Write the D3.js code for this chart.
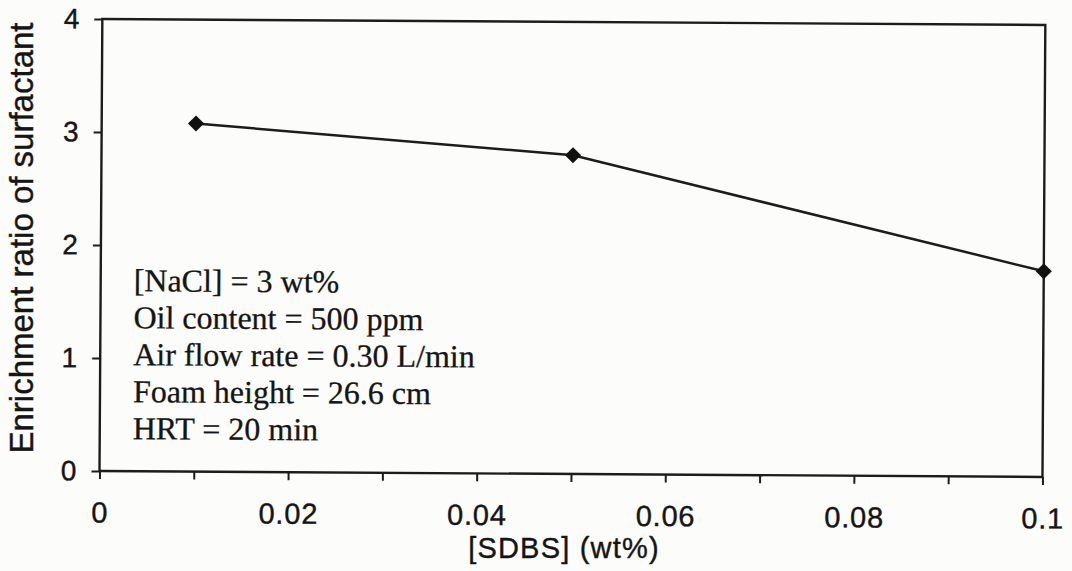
<!DOCTYPE html>
<html>
<head>
<meta charset="utf-8">
<script src="https://cdn.jsdelivr.net/npm/d3@7"></script>
<style>
  html, body { margin: 0; padding: 0; background: #fcfcfb; }
  svg { display: block; }
</style>
</head>
<body>
<svg id="chart" width="1072" height="571"></svg>
<script>
// SDBS concentration (wt%) and measured enrichment ratio
const sdbs = [0.01, 0.05, 0.10];
const enrichment = [3.08, 2.82, 1.82];

const xTicks = [0, 0.01, 0.02, 0.03, 0.04, 0.05, 0.06, 0.07, 0.08, 0.09, 0.10];
const xTickLabels = ["0", "", "0.02", "", "0.04", "", "0.06", "", "0.08", "", "0.1"];
const yTicks = [0, 1, 2, 3, 4];
const yTickLabels = ["0", "1", "2", "3", "4"];

const conditions = [
  "[NaCl] = 3 wt%",
  "Oil content = 500 ppm",
  "Air flow rate = 0.30 L/min",
  "Foam height = 26.6 cm",
  "HRT = 20 min"
];

const xTitle = "[SDBS] (wt%)";
const yTitle = "Enrichment ratio of surfactant";

const W = 943, H = 452;
const svg = d3.select("#chart");

const x = d3.scaleLinear().domain([0, 0.1]).range([0, W]);
const y = d3.scaleLinear().domain([0, 4]).range([H, 0]);

// plot area, slightly tilted as on the printed page
const g = svg.append("g")
  .attr("transform", `translate(99.5,471) rotate(0.36) translate(0,${-H})`);

const ink = "#1c1c1c";
const sans = "'Liberation Sans', Arial, sans-serif";
const serif = "'Liberation Serif', 'Times New Roman', serif";

// frame
g.append("rect")
  .attr("x", 0).attr("y", 0).attr("width", W).attr("height", H)
  .attr("fill", "none").attr("stroke", ink).attr("stroke-width", 2.4);

// x axis
const xAxis = d3.axisBottom(x)
  .tickValues(xTicks)
  .tickSize(8)
  .tickPadding(23)
  .tickFormat((d, i) => xTickLabels[i]);
const gx = g.append("g").attr("transform", `translate(0,${H})`).call(xAxis);
gx.select(".domain").remove();
gx.selectAll(".tick line").attr("stroke", ink).attr("stroke-width", 2);
gx.selectAll(".tick text")
  .attr("fill", "#151515")
  .attr("stroke", "#151515").attr("stroke-width", 0.4)
  .style("font-family", sans)
  .style("font-size", "29px")
  .style("letter-spacing", "0.8px");

// y axis
const yAxis = d3.axisLeft(y)
  .tickValues(yTicks)
  .tickSize(8)
  .tickPadding(15)
  .tickFormat((d, i) => yTickLabels[i]);
const gy = g.append("g").call(yAxis);
gy.select(".domain").remove();
gy.selectAll(".tick line").attr("stroke", ink).attr("stroke-width", 2);
gy.selectAll(".tick text")
  .attr("fill", "#151515")
  .attr("stroke", "#151515").attr("stroke-width", 0.4)
  .style("font-family", sans)
  .style("font-size", "28px");

// data line
const pts = sdbs.map((v, i) => [v, enrichment[i]]);
g.append("path")
  .datum(pts)
  .attr("fill", "none")
  .attr("stroke", ink)
  .attr("stroke-width", 2.5)
  .attr("d", d3.line().x(d => x(d[0])).y(d => y(d[1])));

// diamond markers
g.selectAll("path.marker")
  .data(pts)
  .join("path")
  .attr("class", "marker")
  .attr("d", d3.symbol(d3.symbolSquare, 130)())
  .attr("transform", d => `translate(${x(d[0])},${y(d[1])}) rotate(45)`)
  .attr("fill", "#111");

// experimental conditions
const note = g.append("text")
  .attr("fill", "#151515")
  .attr("stroke", "#151515").attr("stroke-width", 0.3)
  .style("font-family", serif)
  .style("font-size", "32px");
note.selectAll("tspan")
  .data(conditions)
  .join("tspan")
  .attr("x", 33)
  .attr("y", (d, i) => 272 + i * 37)
  .text(d => d);

// axis titles
svg.append("text")
  .attr("x", 564).attr("y", 558)
  .attr("text-anchor", "middle")
  .attr("fill", "#151515")
  .attr("stroke", "#151515").attr("stroke-width", 0.4)
  .style("font-family", sans)
  .style("font-size", "29px")
  .style("letter-spacing", "1.2px")
  .text(xTitle);

svg.append("text")
  .attr("transform", "translate(33,238) rotate(-90)")
  .attr("text-anchor", "middle")
  .attr("fill", "#151515")
  .attr("stroke", "#151515").attr("stroke-width", 0.4)
  .style("font-family", sans)
  .style("font-size", "33px")
  .text(yTitle);
</script>
</body>
</html>
